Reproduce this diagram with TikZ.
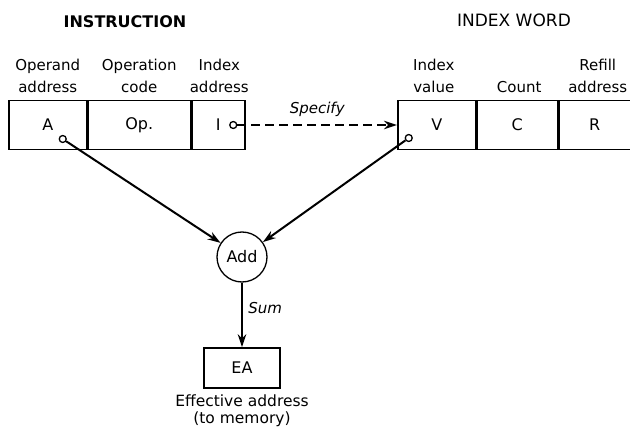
\documentclass[tikz,border=0pt]{standalone}
\usepackage{fontspec}
\setmainfont{DejaVu Sans}
\usetikzlibrary{arrows.meta,positioning}

\begin{document}
\begin{tikzpicture}[
  x=1pt, y=1pt,
  node distance=6pt,
  field/.style={rectangle, draw, line width=1.5pt, minimum height=49pt,
                inner sep=0pt, font=\fontsize{16}{18}\selectfont},
  head/.style={align=center, inner sep=1pt, font=\fontsize{15}{22}\selectfont},
  title/.style={inner sep=1pt, font=\fontsize{17}{20}\selectfont},
  tap/.style={circle, draw, fill=white, line width=1.3pt, minimum size=7pt,
              inner sep=0pt},
  arr/.style={-{Stealth[length=13pt,width=8.5pt]}, line width=2pt}
]
\useasboundingbox (0,0) rectangle (630,440);
% instruction word
\node[field, minimum width=78pt, anchor=west] (opA) at (8,315) {A};
\node[field, minimum width=102pt, right=0pt of opA] (opOp) {Op.};
\node[field, minimum width=53pt, right=0pt of opOp] (opI) {I};
\node[head, above=6pt of opA] (hdA) {Operand\\address};
\node[head, above=6pt of opOp] (hdOp) {Operation\\code};
\node[head, above=6pt of opI, xshift=1pt] (hdI) {Index\\address};
\node[title, font=\fontsize{16}{20}\selectfont\bfseries] (ttlInstr) at (125,418) {INSTRUCTION};
% index word
\node[field, minimum width=78pt, anchor=west] (ixV) at (397,315) {V};
\node[field, minimum width=80pt, right=0pt of ixV] (ixC) {C};
\node[field, minimum width=72pt, right=0pt of ixC] (ixR) {R};
\node[head, above=6pt of ixV, xshift=-3pt] (hdV) {Index\\value};
\node[head, above=6pt of ixC, xshift=2pt] (hdC) {Count};
\node[head, above=6pt of ixR, xshift=3pt] (hdR) {Refill\\address};
\node[title] (ttlIndex) at (514,420) {INDEX WORD};
% taps
\node[tap] (tA) at ([xshift=15pt,yshift=-14pt]opA.center) {};
\node[tap] (tI) at ([xshift=15pt]opI.center) {};
\node[tap] (tV) at ([xshift=-28pt,yshift=-13pt]ixV.center) {};
% adder and result
\node[circle, draw, line width=1.3pt, minimum size=50pt, inner sep=0pt,
      font=\fontsize{16}{18}\selectfont] (add) at (242,183) {Add};
\node[field, minimum width=76pt, minimum height=40pt] (ea) at (242,72) {EA};
\node[head, below=5pt of ea, font=\fontsize{15.5}{17}\selectfont] (eaLbl)
  {Effective address\\(to memory)};
% connectors
\draw[arr, line width=1.8pt, dash pattern=on 9pt off 5pt] (tI) -- (ixV)
  node[midway, above=4pt, font=\fontsize{15}{18}\selectfont\itshape] {Specify};
\draw[arr] (tA) -- (add);
\draw[arr] (tV) -- (add);
\draw[arr] (add) -- (ea)
  node[pos=0.4, right=2pt, font=\fontsize{15}{18}\selectfont\itshape] {Sum};
\end{tikzpicture}
\end{document}
